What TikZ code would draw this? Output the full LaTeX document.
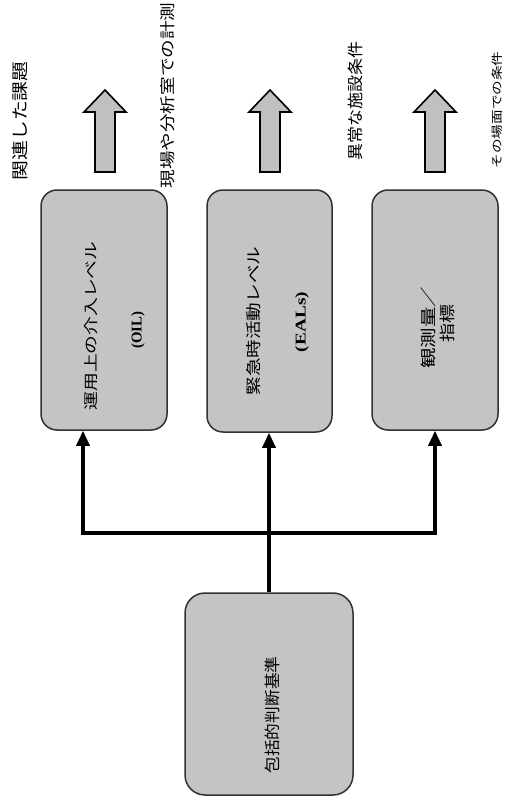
\documentclass[tikz,border=0pt]{standalone}
\usepackage{fontspec}
\usepackage{graphicx}
\newfontfamily\jp{Noto Sans CJK JP}
\newfontfamily\tms{Liberation Serif}
\usetikzlibrary{arrows.meta}
\newcommand\fit[2]{\resizebox{#1}{\height}{#2}}
\definecolor{boxfill}{RGB}{196,196,196}
\definecolor{boxline}{RGB}{50,50,50}
\definecolor{arrowfill}{RGB}{192,192,192}
\begin{document}
\begin{tikzpicture}[x=1pt,y=-1pt,
  box/.style={draw=boxline, line width=1.5pt, fill=boxfill, rounded corners=16pt, inner sep=0pt},
  lab/.style={rotate=90, inner sep=0pt},
  conn/.style={line width=3.2pt, black},
  blockarrow/.style={draw=black, line width=1.6pt, fill=arrowfill, line join=miter},
  tip/.tip={Triangle[width=13pt,length=15pt]}]
\fill[white] (0,0) rectangle (508,805);
\useasboundingbox (0,0) rectangle (508,805);

% boxes
\node[box, minimum width=126pt, minimum height=240pt] (oil) at (104,310) {};
\node[box, minimum width=125pt, minimum height=242pt] (eal) at (269.5,311) {};
\node[box, minimum width=126pt, minimum height=240pt] (obs) at (435,310) {};
\node[box, minimum width=168pt, minimum height=202pt, rounded corners=20pt] (gen) at (269,694) {};

% connectors
\coordinate (j) at (269,533);
\coordinate (jl) at (83,533);
\coordinate (jr) at (435,533);
\draw[conn,-tip] (j) -| (jl |- oil.south);
\draw[conn,-tip] (j) -| (jr |- obs.south);
\draw[conn,-tip] (gen.north) -- (gen.north |- eal.south);

% block arrows
\foreach \cx in {105,270,435}{
  \draw[blockarrow] ({\cx-10},172) -- ({\cx-10},112) -- ({\cx-21},112) -- (\cx,90)
    -- ({\cx+21},112) -- ({\cx+10},112) -- ({\cx+10},172) -- cycle;
}

% top labels
\node[lab, font=\jp\fontsize{17}{20}\selectfont] (t1) at (20,121) {\fit{119pt}{関連した課題}};
\node[lab, font=\jp\fontsize{15.5}{18}\selectfont] (t2) at (168,95.5) {\fit{186pt}{現場や分析室での計測}};
\node[lab, font=\jp\fontsize{16}{19}\selectfont] (t3) at (355,101) {\fit{119pt}{異常な施設条件}};
\node[lab, font=\jp\fontsize{11.5}{14}\selectfont] (t4) at (497,110) {\fit{117pt}{その場面での条件}};

% box labels
\node[lab, font=\jp\fontsize{14.5}{17}\selectfont] (l1) at (91,326) {\fit{169pt}{運用上の介入レベル}};
\node[lab, font=\tms\bfseries\fontsize{15}{18}\selectfont] (l1b) at (138,330) {\fit{37pt}{(OIL)}};
\node[lab, font=\jp\fontsize{15.5}{17}\selectfont] (l2) at (254,321) {\fit{149pt}{緊急時活動レベル}};
\node[lab, font=\tms\bfseries\fontsize{15}{18}\selectfont] (l2b) at (302,322) {\fit{60pt}{(EALs)}};
\node[lab, font=\jp\fontsize{16}{18}\selectfont] (l3) at (428,327.5) {\fit{82pt}{観測量／}};
\node[lab, font=\jp\fontsize{16}{18}\selectfont] (l3b) at (447,323.5) {\fit{38pt}{指標}};
\node[lab, font=\jp\fontsize{16}{18}\selectfont] (l4) at (272,715) {\fit{117pt}{包括的判断基準}};
\end{tikzpicture}
\end{document}
